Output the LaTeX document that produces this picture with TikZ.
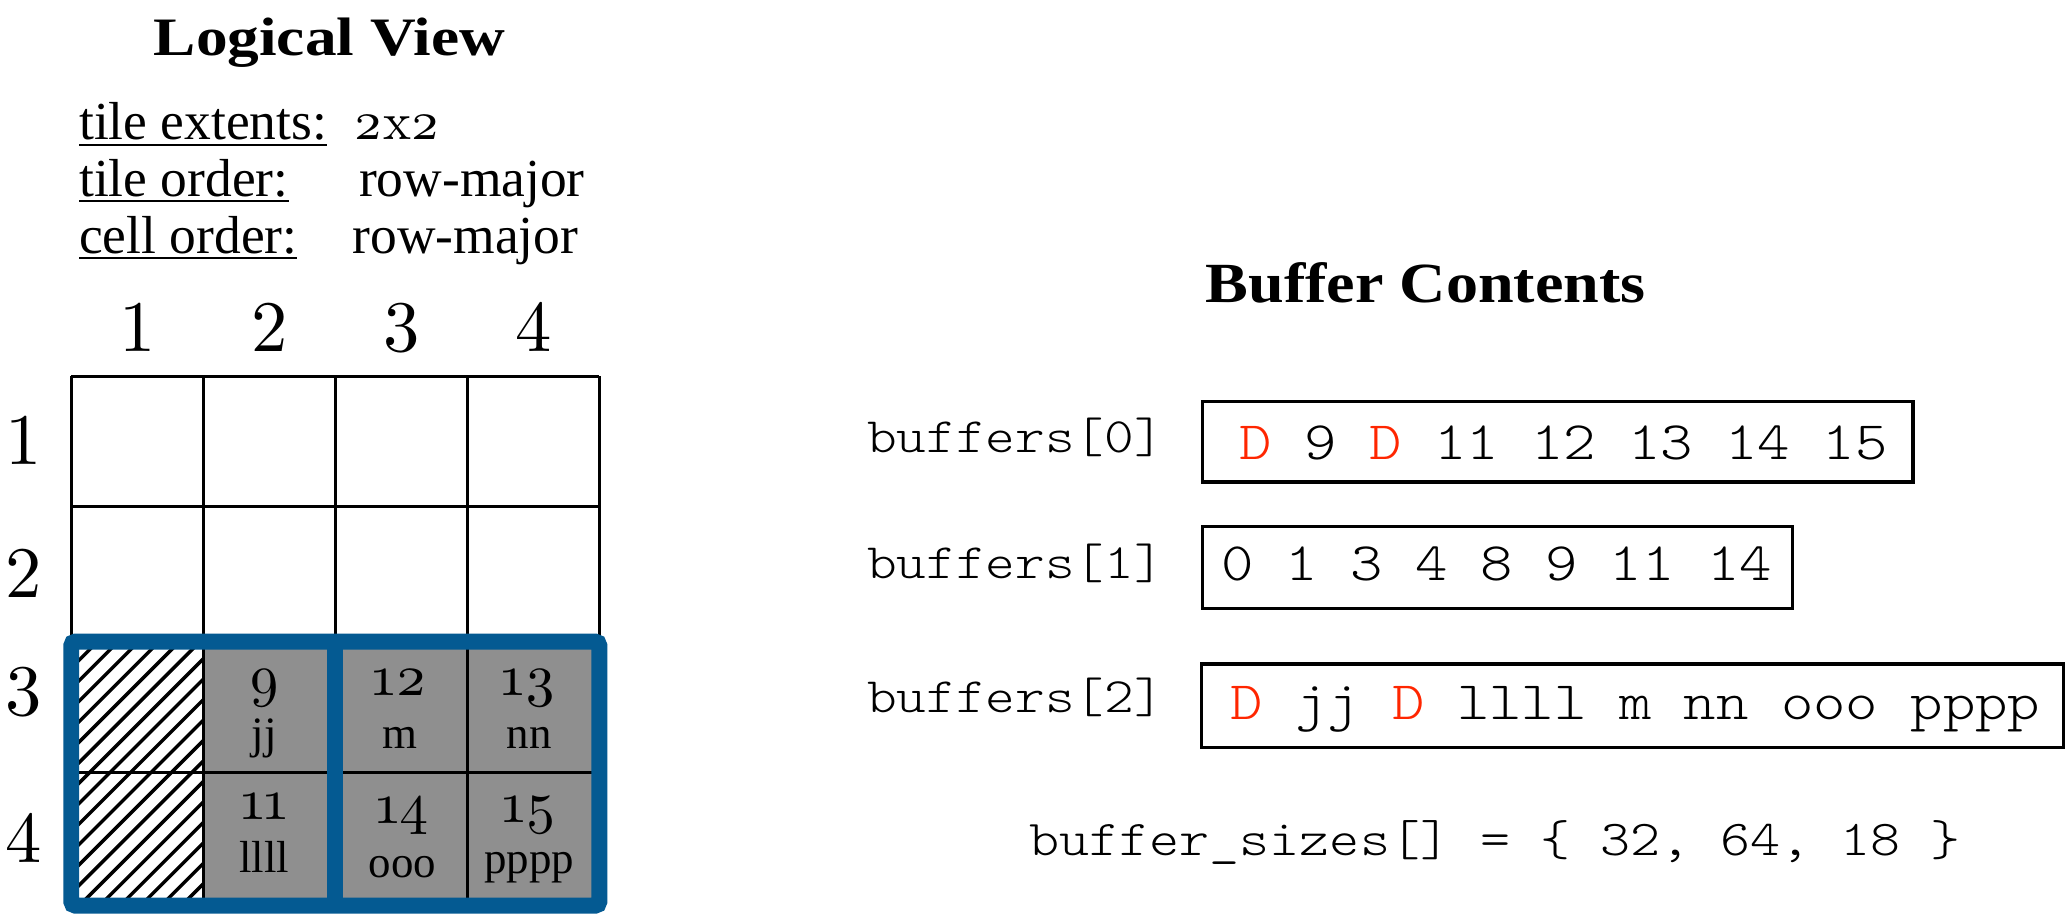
\documentclass[tikz,border=0pt]{standalone}
\usepackage{fontspec}
\setmainfont{Liberation Serif}
\newfontfamily\lmr{lmroman10-regular.otf}
\newfontfamily\lmold[Numbers=OldStyle]{lmroman10-regular.otf}
\newfontfamily\monof[FakeStretch=1.14]{lmmonolt10-regular.otf}
\definecolor{tileblue}{RGB}{4,90,146}
\definecolor{cellgray}{RGB}{143,143,143}
\definecolor{dred}{RGB}{255,38,0}
\begin{document}
\begin{tikzpicture}[x=1pt,y=-1pt,
  every node/.style={inner sep=0pt, outer sep=0pt},
  titletxt/.style={font=\fontsize{41}{49}\selectfont\bfseries, anchor=base},
  infotxt/.style={font=\fontsize{40.5}{48}\selectfont, anchor=base west},
  axislbl/.style={font=\lmr\fontsize{55}{60}\selectfont, anchor=base},
  cellnum/.style={font=\lmold\fontsize{43}{48}\selectfont, anchor=base},
  celltxt/.style={font=\fontsize{34}{40}\selectfont, anchor=base},
  monolbl/.style={font=\monof\fontsize{37.5}{45}\selectfont, anchor=base west},
  montxt/.style={font=\monof\fontsize{41}{49}\selectfont, anchor=base west},
  bufbox/.style={draw, line width=2.5pt},
  gridline/.style={line width=2.2pt},
  hatchline/.style={line width=2.6pt},
  tileframe/.style={draw=tileblue, line width=12pt, rounded corners=3pt},
]
\fill[white] (0,0) rectangle (1568,694);
\useasboundingbox (0,0) rectangle (1568,694);

% ---- Logical view header ----
\node[titletxt, xscale=1.17] (lvtitle) at (249.5,41.7) {Logical View};
\node[infotxt] (te) at (60,106) {tile extents:};
\node[infotxt] (to) at (60,149) {tile order:};
\node[infotxt] (co) at (60,192) {cell order:};
\foreach \n in {te,to,co}
  \draw[line width=1.6pt] ([yshift=-3.5pt]\n.base west) -- ([yshift=-3.5pt]\n.base east);
\node[infotxt, font=\lmold\fontsize{40}{44}\selectfont] (tev) at (268,106) {2x2};
\node[infotxt] (tov) at (272,149) {row-major};
\node[infotxt] (cov) at (267,192) {row-major};

% ---- axis labels ----
\foreach \c/\x in {1/104,2/204,3/304,4/404}
  \node[axislbl] (col\c) at (\x,266) {\c};
\foreach \r/\y in {1/352,2/452.6,3/541.6,4/653}
  \node[axislbl] (row\r) at (18,\y) {\r};

% ---- grid ----
\fill[cellgray] (154,486) rectangle (454,686);
\begin{scope}
  \clip (54,486) rectangle (154,686);
  \foreach \i in {-217,-201.5,...,160}
    \draw[hatchline] (54+\i,692) -- (54+\i+212,480);
\end{scope}
\foreach \x in {54,154,254,354,454}
  \draw[gridline] (\x,285) -- (\x,686);
\foreach \y in {285,384,486,585,686}
  \draw[gridline] (54,\y) -- (454,\y);
\draw[tileframe] (54,486) rectangle (454,686);
\draw[tileblue, line width=12pt] (254,486) -- (254,686);

% ---- cell contents ----
\node[cellnum] (n9)  at (200,527) {9};
\node[celltxt] (s9)  at (200,567) {jj};
\node[cellnum] (n12) at (303,527) {12};
\node[celltxt] (s12) at (303,567) {m};
\node[cellnum] (n13) at (401,527) {13};
\node[celltxt] (s13) at (401,567) {nn};
\node[cellnum] (n11) at (200,621) {11};
\node[celltxt] (s11) at (200,661) {llll};
\node[cellnum] (n14) at (305,624) {14};
\node[celltxt] (s14) at (305,665) {ooo};
\node[cellnum] (n15) at (401,623) {15};
\node[celltxt] (s15) at (401,662) {pppp};

% ---- buffer contents ----
\node[titletxt, xscale=1.13, font=\fontsize{43}{50}\selectfont\bfseries] (bctitle) at (1080,229) {Buffer Contents};

\node[monolbl] (l0) at (657,343) {buffers[0]};
\node[monolbl] (l1) at (657,438) {buffers[1]};
\node[monolbl] (l2) at (657,540) {buffers[2]};

\node[bufbox, minimum width=538pt, minimum height=61pt] (b0) at (1180,334.5) {};
\node[bufbox, minimum width=447pt, minimum height=62pt] (b1) at (1134.5,430) {};
\node[bufbox, minimum width=653pt, minimum height=63pt] (b2) at (1236.5,534.5) {};

\node[montxt] (t0) at (939,348) {\textcolor{dred}{D} 9 \textcolor{dred}{D} 11 12 13 14 15};
\node[montxt] (t1) at (925,440) {0 1 3 4 8 9 11 14};
\node[montxt] (t2) at (932,545) {\textcolor{dred}{D} jj \textcolor{dred}{D} llll m nn ooo pppp};

\node[monolbl, font=\monof\fontsize{38}{46}\selectfont] (bs) at (780,648) {buffer\_sizes[] = \{ 32, 64, 18 \}};
\end{tikzpicture}
\end{document}
